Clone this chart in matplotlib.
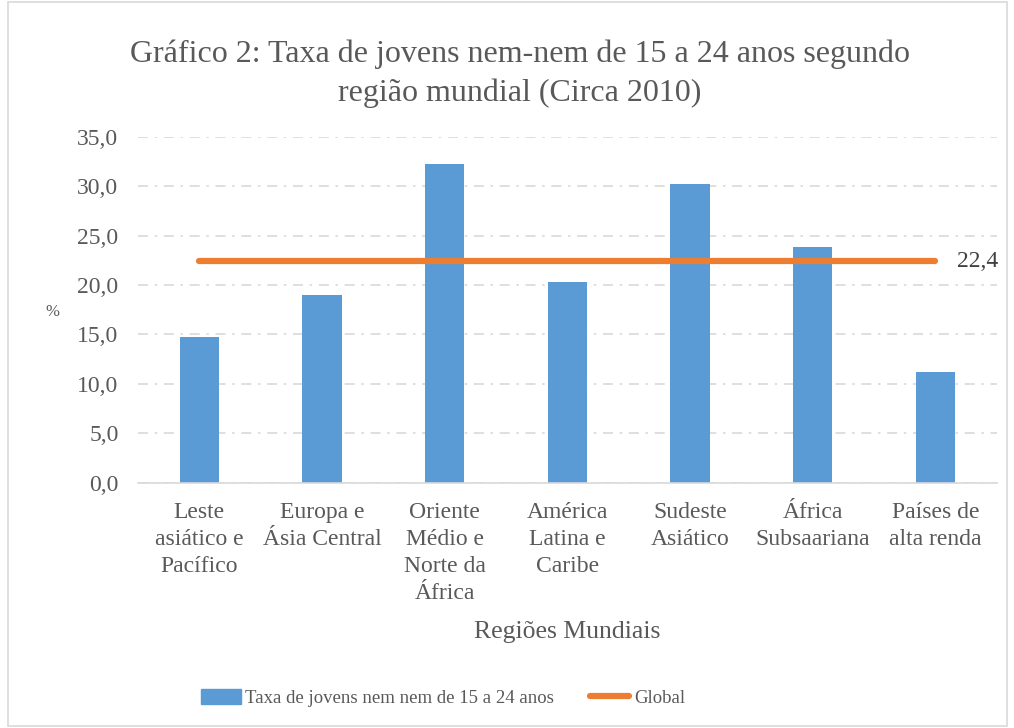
import matplotlib.pyplot as plt
from matplotlib.patches import Rectangle
from matplotlib.lines import Line2D

# data
regioes = ['Leste\nasiático e\nPacífico', 'Europa e\nÁsia Central',
           'Oriente\nMédio e\nNorte da\nÁfrica', 'América\nLatina e\nCaribe',
           'Sudeste\nAsiático', 'África\nSubsaariana', 'Países de\nalta renda']
taxa = [14.7, 19.0, 32.3, 20.3, 30.2, 23.9, 11.2]
global_taxa = [22.4] * len(regioes)
yticks = [0, 5, 10, 15, 20, 25, 30, 35]

blue = '#5B9BD5'
orange = '#ED7D31'
txt = '#595959'
plt.rcParams['font.family'] = ['Liberation Serif', 'DejaVu Serif']

fig = plt.figure(figsize=(10.14, 7.28), dpi=100)
ax = fig.add_axes([0.136, 0.337, 0.847, 0.475])

x = list(range(len(regioes)))
ax.bar(x, taxa, width=0.32, color=blue, zorder=2)
ax.plot(x, global_taxa, color=orange, lw=4.5, solid_capstyle='round', zorder=3)
ax.text(x[-1] + 0.18, global_taxa[-1], '22,4', fontsize=17, color='#404040',
        va='center', ha='left')

ax.set_xlim(-0.5, len(regioes) - 0.5)
ax.set_ylim(0, 35)
ax.set_yticks(yticks)
ax.set_yticklabels([f'{v:.1f}'.replace('.', ',') for v in yticks],
                   fontsize=17, color=txt)
ax.set_xticks(x)
ax.set_xticklabels(regioes, fontsize=17, color=txt, linespacing=1.38)
ax.tick_params(length=0)
ax.tick_params(axis='y', pad=14)
ax.tick_params(axis='x', pad=14)
ax.yaxis.grid(True, color='#D9D9D9', lw=1.2, linestyle=(0, (6, 4, 1.5, 4)), zorder=0)
for s in ['top', 'right', 'left']:
    ax.spines[s].set_visible(False)
ax.spines['bottom'].set_color('#D9D9D9')
ax.spines['bottom'].set_linewidth(1.2)

fig.text(0.513, 0.899, 'Gráfico 2: Taxa de jovens nem-nem de 15 a 24 anos segundo\nregião mundial (Circa 2010)',
         ha='center', va='center', fontsize=23, color=txt, linespacing=1.4)
fig.text(0.052, 0.572, '%', fontsize=12, color=txt, ha='center', va='center')
fig.text(0.559, 0.132, 'Regiões Mundiais', fontsize=18.5, color=txt,
         ha='center', va='center')

handles = [Rectangle((0, 0), 1, 1, color=blue),
           Line2D([0], [0], color=orange, lw=4.5, solid_capstyle='round')]
fig.legend(handles, ['Taxa de jovens nem nem de 15 a 24 anos', 'Global'],
           loc='center', bbox_to_anchor=(0.437, 0.041), ncol=2, frameon=False,
           fontsize=13.5, labelcolor=txt, handlelength=2.1, handletextpad=0.25,
           columnspacing=1.9, handleheight=0.8)

fig.add_artist(Rectangle((0.008, 0.003), 0.985, 0.994, transform=fig.transFigure,
                         fill=False, edgecolor='#D9D9D9', lw=1.2))

plt.savefig('out.png', dpi=100)
